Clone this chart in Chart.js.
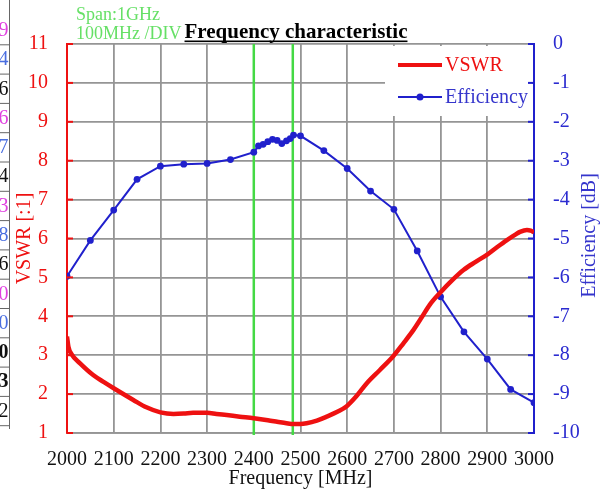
<!DOCTYPE html>
<html>
<head>
<meta charset="utf-8">
<script src="https://cdn.jsdelivr.net/npm/chart.js@4.4.1/dist/chart.umd.min.js"></script>
<style>
  html, body { margin: 0; padding: 0; background: #fff; }
  canvas { display: block; }
</style>
</head>
<body>
<canvas id="c" width="609" height="489"></canvas>
<script>
// ---------------- data ----------------
const vswrFreq = [2000, 2003, 2010, 2028, 2056, 2080, 2100, 2142, 2170, 2200, 2228, 2250, 2270, 2300, 2320, 2342, 2370, 2400, 2430, 2450, 2470, 2485, 2500, 2513, 2535, 2556, 2580, 2599, 2620, 2642, 2670, 2699, 2720, 2742, 2760, 2777, 2800, 2825, 2849, 2875, 2899, 2920, 2942, 2960, 2970, 2985, 2993, 3000];
const vswrValue = [3.48, 3.22, 3.02, 2.79, 2.49, 2.30, 2.15, 1.85, 1.66, 1.53, 1.49, 1.50, 1.52, 1.52, 1.49, 1.46, 1.42, 1.38, 1.33, 1.29, 1.25, 1.23, 1.23, 1.25, 1.32, 1.42, 1.55, 1.69, 1.95, 2.28, 2.62, 2.98, 3.30, 3.65, 3.98, 4.30, 4.62, 4.93, 5.19, 5.40, 5.58, 5.77, 5.96, 6.10, 6.17, 6.22, 6.20, 6.16];

const effFreq = [2000, 2050, 2100, 2150, 2200, 2250, 2300, 2350, 2400, 2410, 2420, 2430, 2440, 2450, 2460, 2470, 2478, 2485, 2500, 2550, 2600, 2650, 2700, 2750, 2800, 2850, 2900, 2950, 3000];
const effValue = [-5.97, -5.05, -4.27, -3.48, -3.14, -3.09, -3.07, -2.97, -2.78, -2.62, -2.58, -2.51, -2.45, -2.48, -2.56, -2.49, -2.43, -2.34, -2.36, -2.74, -3.20, -3.78, -4.25, -5.32, -6.50, -7.40, -8.10, -8.88, -9.22];

const bandEdges = [2400, 2483.5];

const xTickValues = [2000, 2100, 2200, 2300, 2400, 2500, 2600, 2700, 2800, 2900, 3000];
const vswrTickValues = [1, 2, 3, 4, 5, 6, 7, 8, 9, 10, 11];
const effTickValues = [0, -1, -2, -3, -4, -5, -6, -7, -8, -9, -10];

const titleText = 'Frequency characteristic';
const spanLines = ['Span:1GHz', '100MHz /DIV'];
const seriesNames = ['VSWR', 'Efficiency'];
const axisTitles = ['Frequency [MHz]', 'VSWR [:1]', 'Efficiency [dB]'];

// cut-off table at the left edge
const sideDigits = ['9', '4', '6', '6', '7', '4', '3', '8', '6', '0', '0', '0', '3', '2'];
const sideKinds  = ['m', 'b', 'k', 'm', 'b', 'k', 'm', 'b', 'k', 'm', 'b', 'K', 'K', 'k'];

// ---------------- styles ----------------
const SERIF = "'Liberation Serif', 'Times New Roman', serif";
const RED = '#ee1111';
const BLUE = '#2020cc';
const GRID = '#959595';
const GREEN = '#44d944';
const GREEN_TEXT = '#66e066';

const overlay = {
  id: 'overlay',
  beforeDatasetsDraw(chart) {
    const { ctx, chartArea: a, scales } = chart;
    const x = scales.x;
    ctx.save();
    // ISM band markers
    ctx.strokeStyle = GREEN;
    ctx.lineWidth = 2.5;
    bandEdges.forEach(f => {
      const px = x.getPixelForValue(f);
      ctx.beginPath();
      ctx.moveTo(px, a.top);
      ctx.lineTo(px, a.bottom + 2);
      ctx.stroke();
    });
    // legend box
    const lx = 385, ly = a.top + 2, lw = a.right - 2 - lx, lh = 116 - ly;
    ctx.fillStyle = '#fff';
    ctx.fillRect(lx, ly, lw, lh);
    ctx.lineCap = 'butt';
    ctx.strokeStyle = RED;
    ctx.lineWidth = 4;
    ctx.beginPath(); ctx.moveTo(398, 65); ctx.lineTo(442, 65); ctx.stroke();
    ctx.strokeStyle = BLUE;
    ctx.lineWidth = 2;
    ctx.beginPath(); ctx.moveTo(398, 97); ctx.lineTo(442, 97); ctx.stroke();
    ctx.fillStyle = BLUE;
    ctx.beginPath(); ctx.arc(420, 97, 3.5, 0, Math.PI * 2); ctx.fill();
    ctx.font = '20px ' + SERIF;
    ctx.textBaseline = 'middle';
    ctx.textAlign = 'left';
    ctx.fillStyle = RED;
    ctx.fillText(seriesNames[0], 445, 66);
    ctx.fillStyle = '#3535cc';
    ctx.fillText(seriesNames[1], 445, 98);
    ctx.restore();
  },
  afterDraw(chart) {
    const { ctx, chartArea: a, scales } = chart;
    ctx.save();
    // inward ticks
    ctx.lineWidth = 2;
    ctx.strokeStyle = RED;
    vswrTickValues.forEach(v => {
      const py = scales.y.getPixelForValue(v);
      ctx.beginPath(); ctx.moveTo(a.left, py); ctx.lineTo(a.left + 6, py); ctx.stroke();
    });
    ctx.strokeStyle = BLUE;
    effTickValues.forEach(v => {
      const py = scales.y2.getPixelForValue(v);
      ctx.beginPath(); ctx.moveTo(a.right - 6, py); ctx.lineTo(a.right, py); ctx.stroke();
    });
    // right axis title (reads bottom to top)
    ctx.save();
    ctx.translate(590, (a.top + a.bottom) / 2 - 3);
    ctx.rotate(-Math.PI / 2);
    ctx.font = '20px ' + SERIF;
    ctx.fillStyle = '#3535cc';
    ctx.textAlign = 'center';
    ctx.textBaseline = 'middle';
    ctx.fillText(axisTitles[2], 0, 0);
    ctx.restore();
    // green span text
    ctx.font = '18px ' + SERIF;
    ctx.fillStyle = GREEN_TEXT;
    ctx.textAlign = 'left';
    ctx.textBaseline = 'alphabetic';
    ctx.fillText(spanLines[0], 76, 20);
    ctx.fillText(spanLines[1], 76, 39);
    // main title with white backing
    ctx.font = 'bold 21px ' + SERIF;
    const tw = ctx.measureText(titleText).width;
    const tx = 296 - tw / 2;
    ctx.fillStyle = '#fff';
    ctx.fillRect(tx - 1, 22, tw + 2, 20);
    ctx.fillStyle = '#000';
    ctx.fillText(titleText, tx, 38);
    ctx.fillRect(tx, 40.5, tw, 1.6);
    // cut-off side table
    ctx.strokeStyle = '#666';
    ctx.lineWidth = 1;
    ctx.beginPath(); ctx.moveTo(9.5, 0); ctx.lineTo(9.5, 429); ctx.stroke();
    const rowH = 29.3, top0 = 15;
    ctx.textAlign = 'right';
    ctx.textBaseline = 'middle';
    sideDigits.forEach((d, i) => {
      const k = sideKinds[i];
      ctx.font = (k === 'K' ? 'bold ' : '') + '20px ' + SERIF;
      ctx.fillStyle = k === 'm' ? '#e040e0' : k === 'b' ? '#4a6ee0' : '#111';
      ctx.fillText(d, 8.5, top0 + rowH * (i + 0.5) + 1);
      ctx.strokeStyle = '#666';
      ctx.beginPath();
      ctx.moveTo(0, top0 + rowH * (i + 1) + 0.5);
      ctx.lineTo(9.5, top0 + rowH * (i + 1) + 0.5);
      ctx.stroke();
    });
    ctx.restore();
  }
};

const ctx = document.getElementById('c').getContext('2d');
new Chart(ctx, {
  type: 'line',
  data: {
    datasets: [
      {
        label: seriesNames[0],
        data: vswrFreq.map((f, i) => ({ x: f, y: vswrValue[i] })),
        yAxisID: 'y',
        borderColor: RED,
        borderWidth: 4.5,
        pointRadius: 0,
        cubicInterpolationMode: 'monotone',
        fill: false
      },
      {
        label: seriesNames[1],
        data: effFreq.map((f, i) => ({ x: f, y: effValue[i] })),
        yAxisID: 'y2',
        borderColor: BLUE,
        backgroundColor: BLUE,
        borderWidth: 2,
        pointRadius: 3.4,
        pointBorderWidth: 0,
        tension: 0,
        fill: false
      }
    ]
  },
  options: {
    responsive: false,
    devicePixelRatio: 1,
    animation: false,
    layout: { padding: { top: 44, left: 0, right: 0, bottom: 0 } },
    plugins: { legend: { display: false }, tooltip: { enabled: false } },
    scales: {
      x: {
        type: 'linear',
        min: 2000, max: 3000,
        afterBuildTicks: s => { s.ticks = xTickValues.map(v => ({ value: v })); },
        afterFit: s => { s.height = 56; },
        grid: { color: GRID, lineWidth: 1.8, drawTicks: false },
        border: { color: GRID, width: 1.8 },
        ticks: {
          color: '#111', padding: 15, maxRotation: 0, autoSkip: false,
          font: { family: SERIF, size: 20 },
          callback: v => String(v)
        },
        title: {
          display: true, text: axisTitles[0], color: '#111',
          font: { family: SERIF, size: 20, lineHeight: 1.2 },
          padding: { top: 0, bottom: -2 }
        }
      },
      y: {
        position: 'left',
        min: 1, max: 11,
        afterBuildTicks: s => { s.ticks = vswrTickValues.map(v => ({ value: v })); },
        afterFit: s => { s.width = 67; },
        grid: { color: GRID, lineWidth: 1.8, drawTicks: false },
        border: { color: RED, width: 2 },
        ticks: {
          color: RED, padding: 19,
          font: { family: SERIF, size: 20 },
          callback: v => String(v)
        },
        title: {
          display: true, text: axisTitles[1], color: RED,
          font: { family: SERIF, size: 20, lineHeight: 1.2 },
          padding: { top: 13, bottom: 0 }
        }
      },
      y2: {
        position: 'right',
        min: -10, max: 0,
        afterBuildTicks: s => { s.ticks = effTickValues.map(v => ({ value: v })); },
        afterFit: s => { s.width = 75; },
        grid: { display: false, drawTicks: false },
        border: { color: BLUE, width: 2 },
        ticks: {
          color: '#2b2bd0', padding: 19,
          font: { family: SERIF, size: 20 },
          callback: v => String(v)
        }
      }
    }
  },
  plugins: [overlay]
});
</script>
</body>
</html>
